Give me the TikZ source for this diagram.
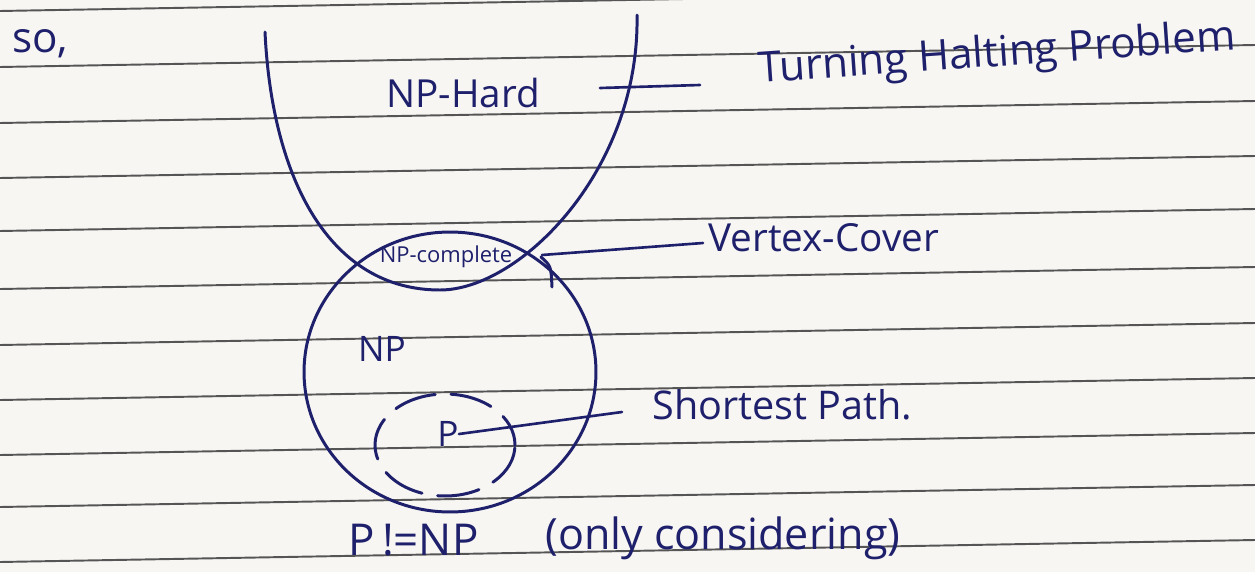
\documentclass[tikz,border=0pt]{standalone}
\usepackage{fontspec}
\setmainfont{Open Sans}
\definecolor{ink}{RGB}{30,32,108}
\definecolor{paper}{RGB}{248,246,243}
\definecolor{ruleline}{RGB}{85,85,85}
\begin{document}
\begin{tikzpicture}[x=0.02cm,y=-0.02cm,
  setline/.style={draw=ink,line width=1.7pt,line cap=round,line join=round},
  conn/.style={draw=ink,line width=1.5pt,line cap=round},
  hand/.style={text=ink,inner sep=0pt,anchor=center},
  ruled/.style={draw=ruleline,line width=1.1pt}]
\fill[paper] (0,0) rectangle (1255,572);
\useasboundingbox (0,0) rectangle (1255,572);
% ruled paper
\foreach \yy in {11,67,123,178,231,289,345,400,455,507,562}
  \draw[ruled] (0,\yy) -- (1255,{\yy-22});

% NP-Hard U curve
\draw[setline] (265,32) .. controls (272,180) and (330,290) .. (440,290)
  .. controls (520,290) and (640,170) .. (637,15);
% NP circle
\draw[setline] (450,372) ellipse [x radius=2.92cm, y radius=2.8cm];
\draw[setline] (541,257) .. controls (551,266) .. (552,287);
% P dashed circle
\draw[setline,dash pattern=on 24pt off 9pt,dash phase=6pt] (445,445) ellipse [x radius=1.4cm, y radius=1.02cm];

% labels
\node[hand,font=\fontsize{24pt}{28pt}\selectfont] (so) at (40,44) {so,};
\node[hand,font=\fontsize{22pt}{26pt}\selectfont] (nphard) at (463,93) {NP-Hard};
\node[hand,font=\fontsize{24pt}{28pt}\selectfont,rotate=4,anchor=west] (thp) at (758,72) {Turning Halting Problem};
\node[hand,font=\fontsize{12.5pt}{15pt}\selectfont] (npc) at (446,257) {NP-complete};
\node[hand,font=\fontsize{22pt}{26pt}\selectfont,anchor=west] (vc) at (708,238) {Vertex-Cover};
\node[hand,font=\fontsize{20pt}{24pt}\selectfont] (np) at (382,349) {NP};
\node[hand,font=\fontsize{20pt}{24pt}\selectfont] (p) at (448,434) {P};
\node[hand,font=\fontsize{22.5pt}{26pt}\selectfont,anchor=west] (sp) at (652,405) {Shortest Path.};
\node[hand,font=\fontsize{25pt}{29pt}\selectfont,anchor=west] (pnp) at (348,540) {P\,!=NP};
\node[hand,font=\fontsize{24.5pt}{28pt}\selectfont,anchor=west] (oc) at (545,538) {(only considering)};

% connectors
\coordinate (hA) at (600,88);
\coordinate (hB) at (700,85);
\draw[conn] (hA) -- (hB);
\coordinate (vA) at (542,255);
\coordinate (vB) at (703,243);
\draw[conn] (vA) -- (vB);
\coordinate (sB) at (622,412);
\draw[conn] (p.east) -- (sB);
\end{tikzpicture}
\end{document}
